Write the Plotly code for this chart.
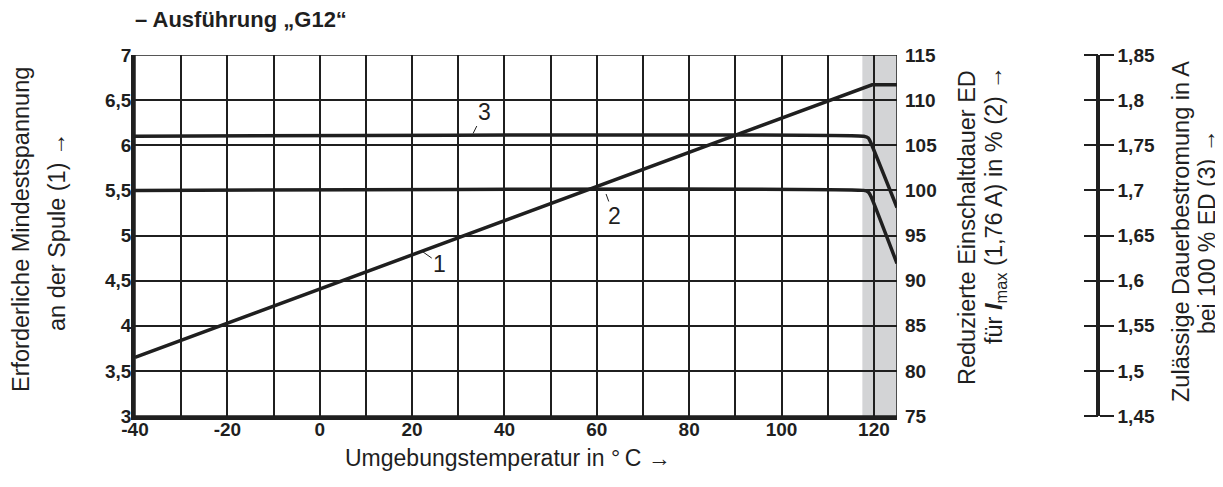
import plotly.graph_objects as go

# ---- data ----
temp_1 = [-40, 119.6, 125]
spannung_1 = [3.65, 6.67, 6.67]          # Mindestspannung (V), left axis

temp_2 = [-40, 117.8, 118.8, 119.4, 125]
ed_2 = [100, 100, 99.8, 99.3, 91.9]      # Einschaltdauer ED (%), right axis

temp_3 = [-40, 117.8, 118.8, 119.4, 125]
strom_3 = [1.76, 1.76, 1.758, 1.752, 1.681]  # Dauerbestromung (A), third axis

x_ticks = [-40, -20, 0, 20, 40, 60, 80, 100, 120]
x_ticktext = ["-40", "-20", "0", "20", "40", "60", "80", "100", "120"]
shade_range = [117.5, 125]

OFF = 8  # page body margin
W, H = 1215, 479
L, R, T, B = 135 - OFF, 20, 55 - OFF, 487 - OFF - 408
plot_w = W - L - R
plot_h = H - T - B
x_dom_end = 762 / plot_w
third_pos = (1098 - OFF - L) / plot_w

INK = "#1f1f1f"
SANS = "Liberation Sans, Arial, Helvetica, sans-serif"

fig = go.Figure()

fig.add_shape(type="rect", xref="x", yref="y", x0=shade_range[0], x1=shade_range[1],
              y0=3, y1=7, fillcolor="#d3d4d6", line_width=0, layer="below")

fig.add_trace(go.Scatter(x=temp_1, y=spannung_1, mode="lines", yaxis="y",
                         line=dict(color=INK, width=3.5), showlegend=False, hoverinfo="skip"))
fig.add_trace(go.Scatter(x=temp_2, y=ed_2, mode="lines", yaxis="y2",
                         line=dict(color=INK, width=3.5, shape="spline", smoothing=0.4),
                         showlegend=False, hoverinfo="skip"))
fig.add_trace(go.Scatter(x=temp_3, y=strom_3, mode="lines", yaxis="y3",
                         line=dict(color=INK, width=3.5, shape="spline", smoothing=0.4),
                         showlegend=False, hoverinfo="skip"))
fig.add_trace(go.Scatter(x=[None], y=[None], yaxis="y4", showlegend=False, hoverinfo="skip"))

fig.add_shape(type="rect", xref="x", yref="y", x0=-40, x1=125, y0=3, y1=7,
              line=dict(color=INK, width=1.5), layer="above")

tickfont = dict(family=SANS, size=19, color=INK, weight="bold")

fig.update_layout(
    width=W, height=H,
    margin=dict(l=L, r=R, t=T, b=B, autoexpand=False),
    plot_bgcolor="rgba(0,0,0,0)", paper_bgcolor="white",
    separators=",.",
    xaxis=dict(range=[-40, 125], domain=[0, x_dom_end], tickvals=x_ticks, ticktext=x_ticktext,
               showgrid=True, gridcolor=INK, gridwidth=1.5,
               minor=dict(dtick=10, tick0=0, showgrid=True, gridcolor=INK, gridwidth=1.5),
               showline=True, linecolor=INK, linewidth=3.5, ticks="", ticklabelstandoff=-7,
               tickfont=tickfont, zeroline=False, fixedrange=True),
    yaxis=dict(range=[3, 7], dtick=0.5, tick0=3, showgrid=True, gridcolor=INK, gridwidth=1.5,
               showline=True, linecolor=INK, linewidth=3.5, ticks="", ticklabelstandoff=-4,
               tickfont=tickfont, zeroline=False, fixedrange=True),
    yaxis2=dict(range=[75, 115], dtick=5, tick0=75, overlaying="y", side="right", anchor="x",
                showgrid=False, showline=False, ticks="", ticklabelstandoff=7,
                tickfont=tickfont, zeroline=False),
    yaxis3=dict(range=[1.45, 1.85], dtick=0.05, tick0=1.45, overlaying="y", side="right",
                anchor="free", position=third_pos, showgrid=False, showline=True,
                linecolor=INK, linewidth=3.5, ticks="outside", ticklen=14, tickwidth=1.5,
                tickcolor=INK, tickfont=tickfont, tickformat=".2~f", ticklabelstandoff=0,
                zeroline=False),
    yaxis4=dict(range=[1.45, 1.85], dtick=0.05, tick0=1.45, overlaying="y", side="left",
                anchor="free", position=third_pos, showgrid=False, showline=False,
                ticks="outside", ticklen=14, tickwidth=1.5, tickcolor=INK,
                showticklabels=False, zeroline=False),
)

ann = []
def txt(x, y, s, size=23.5, angle=0, bold=False, xanchor="center", yanchor="middle"):
    ann.append(dict(xref="paper", yref="paper", x=(x - OFF - L) / plot_w,
                    y=(H - B - (y - OFF)) / plot_h,
                    text=s, showarrow=False, textangle=angle, xanchor=xanchor, yanchor=yanchor,
                    font=dict(family=SANS, size=size, color=INK, weight="bold" if bold else "normal")))

txt(133, 19, "– Ausführung „G12“", size=22, bold=True, xanchor="left")
txt(508, 458, "Umgebungstemperatur in °\u2009C →", size=23)
txt(21, 230, "Erforderliche Mindestspannung", angle=-90)
txt(57, 232, "an der Spule (1) →", angle=-90)
txt(967, 228, "Reduzierte Einschaltdauer ED", angle=-90)
txt(995, 205, "für <b><i>I</i></b><sub>max</sub> (1,76 A) in % (2) →", angle=-90)
txt(1181, 232, "Zulässige Dauerbestromung in A", angle=-90)
txt(1207, 232, "bei 100 % ED (3) →", size=23, angle=-90)

lab_font = dict(family=SANS, size=23, color=INK)
ann.append(dict(xref="x", yref="y", x=33.2, y=6.13, text="3", showarrow=True, arrowhead=0,
                arrowwidth=1, arrowcolor=INK, ax=11, ay=-22, font=lab_font))
ann.append(dict(xref="x", yref="y", x=22.3, y=4.82, text="1", showarrow=True, arrowhead=0,
                arrowwidth=1, arrowcolor=INK, ax=17, ay=12, font=lab_font))
ann.append(dict(xref="x", yref="y", x=62, y=5.46, text="2", showarrow=True, arrowhead=0,
                arrowwidth=1, arrowcolor=INK, ax=8, ay=22, font=lab_font))
fig.update_layout(annotations=ann)

fig.write_html("out.html")
